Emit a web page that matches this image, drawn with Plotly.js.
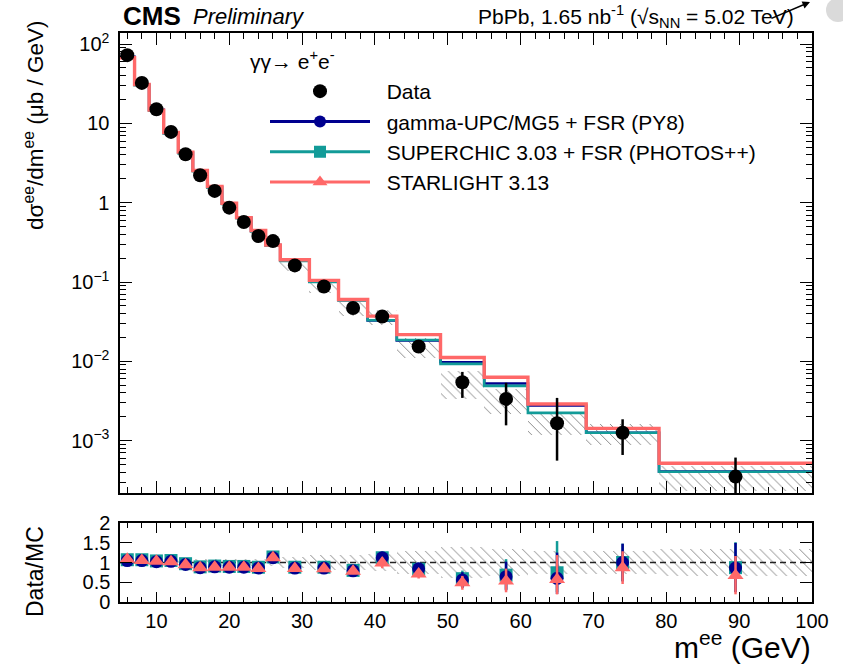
<!DOCTYPE html>
<html>
<head>
<meta charset="utf-8">
<script src="https://cdn.plot.ly/plotly-3.0.1.min.js"></script>
<style>html,body{margin:0;padding:0;background:#fff;}#chart{width:843px;height:672px;}</style>
</head>
<body>
<div id="chart"></div>
<script>
// ---- data ----
const binEdges   = [5,7,9,11,13,15,17,19,21,23,25,27,31,35,39,43,49,55,61,69,79,100];
const binCenters = [6,8,10,12,14,16,18,20,22,24,26,29,33,37,41,46,52,58,65,74,89.5];
// measured cross section (ub/GeV)
const dataXsec    = [72.6,32.4,15.1,7.82,4.08,2.22,1.41,0.867,0.571,0.380,0.328,0.162,0.0879,0.047,0.0368,0.0154,0.00546,0.00336,0.00166,0.00126,0.000352];
const dataErrUp   = [1.5,0.8,0.45,0.25,0.15,0.09,0.06,0.04,0.03,0.022,0.02,0.011,0.007,0.0045,0.005,0.0025,0.0019,0.0020,0.0018,0.0006,0.00026];
const dataErrDown = [1.5,0.8,0.45,0.25,0.15,0.09,0.06,0.04,0.03,0.022,0.02,0.011,0.007,0.0045,0.005,0.0025,0.0020,0.0018,0.0011,0.0006,0.00025];
// relative systematic uncertainty (hatched band)
const relSyst     = [0.08,0.08,0.08,0.08,0.08,0.08,0.08,0.08,0.1,0.1,0.1,0.15,0.18,0.2,0.22,0.28,0.38,0.35,0.3,0.3,0.35];
// MC predictions (ub/GeV)
const gammaUPC   = [69.1,30.9,14.8,7.59,4.29,2.55,1.58,0.985,0.649,0.442,0.293,0.188,0.102,0.0595,0.0329,0.0183,0.00975,0.00525,0.00277,0.00126,0.000409];
const superchic  = [68.0,30.3,14.5,7.45,4.2,2.5,1.55,0.965,0.636,0.433,0.287,0.185,0.100,0.0585,0.033,0.0186,0.0093,0.0049,0.00224,0.00126,0.000405];
const starlight  = [67.2,30.9,14.7,7.67,4.34,2.55,1.60,0.985,0.649,0.447,0.293,0.191,0.105,0.0603,0.0372,0.0217,0.0112,0.0063,0.0029,0.00143,0.00052];
// Data/MC ratios
const ratioGammaUPC  = [1.05,1.05,1.02,1.03,0.95,0.87,0.89,0.88,0.88,0.86,1.12,0.86,0.86,0.79,1.12,0.84,0.56,0.64,0.60,1.00,0.86];
const ratioSuperchic = [1.07,1.07,1.04,1.05,0.97,0.89,0.91,0.90,0.90,0.88,1.14,0.88,0.88,0.80,1.12,0.83,0.59,0.68,0.74,1.00,0.87];
const ratioStarlight = [1.08,1.05,1.03,1.02,0.94,0.87,0.88,0.88,0.88,0.85,1.12,0.85,0.84,0.78,0.99,0.71,0.49,0.53,0.57,0.87,0.67];
const yTickVals = [0.001,0.01,0.1,1,10,100];
const yTickText = ['10<sup>\u22123</sup>','10<sup>\u22122</sup>','10<sup>\u22121</sup>','1','10','10<sup>2</sup>'];
const rTickVals = [0,0.5,1,1.5,2];
const rTickText = ['0','0.5','1','1.5','2'];
const modelNames = ['gamma-UPC/MG5 + FSR (PY8)','SUPERCHIC 3.03 + FSR (PHOTOS++)','STARLIGHT 3.13'];

// ---- derived helpers ----
const widths = binCenters.map((c,i)=>binEdges[i+1]-binEdges[i]);
const stepX = binEdges.slice();
const stepY = a => a.concat([a[a.length-1]]);
const minorLog = [];
for (let e=-4;e<=2;e++) for (let m=2;m<=9;m++) minorLog.push(m*Math.pow(10,e));

const BLUE='#00008f', TEAL='#129b98', RED='#ff6868';
const FONT='Liberation Sans, Arial, Helvetica, sans-serif';
const PAD='\u00a0\u00a0';

const traces = [];
// hatched data systematic band, upper
traces.push({type:'bar', x:binCenters, width:widths,
  base:dataXsec.map((v,i)=>v*(1-relSyst[i])), y:dataXsec.map((v,i)=>2*v*relSyst[i]),
  marker:{color:'rgba(0,0,0,0)', line:{width:0}, pattern:{shape:'\\', fgcolor:'#8a8a8a', bgcolor:'rgba(0,0,0,0)', size:7, solidity:0.14}},
  xaxis:'x', yaxis:'y', showlegend:false, hoverinfo:'skip'});
// step histograms
[[gammaUPC,BLUE,2.6],[superchic,TEAL,2.6],[starlight,RED,3.4]].forEach(([a,c,w])=>{
  traces.push({type:'scatter', mode:'lines', x:stepX, y:stepY(a), line:{shape:'hv', color:c, width:w},
    xaxis:'x', yaxis:'y', showlegend:false, hoverinfo:'skip'});
});
// data points
traces.push({type:'scatter', mode:'markers', name:PAD+'Data', x:binCenters, y:dataXsec,
  error_y:{type:'data', symmetric:false, array:dataErrUp, arrayminus:dataErrDown, color:'black', thickness:2.5, width:0},
  marker:{color:'black', size:14, symbol:'circle'}, xaxis:'x', yaxis:'y', showlegend:true});
// legend-only entries
[[modelNames[0],BLUE,'circle',12],[modelNames[1],TEAL,'square',12],[modelNames[2],RED,'triangle-up',13]].forEach(([n,c,s,sz])=>{
  traces.push({type:'scatter', mode:'lines+markers', name:PAD+n, x:[null], y:[null],
    line:{color:c, width:3}, marker:{color:c, symbol:s, size:sz}, xaxis:'x', yaxis:'y', showlegend:true});
});
// ratio band
traces.push({type:'bar', x:binCenters, width:widths,
  base:relSyst.map(r=>1-r), y:relSyst.map(r=>2*r),
  marker:{color:'rgba(0,0,0,0)', line:{width:0}, pattern:{shape:'\\', fgcolor:'#8a8a8a', bgcolor:'rgba(0,0,0,0)', size:7, solidity:0.14}},
  xaxis:'x2', yaxis:'y2', showlegend:false, hoverinfo:'skip'});
// unity line
traces.push({type:'scatter', mode:'lines', x:[binEdges[0], binEdges[binEdges.length-1]], y:[1,1],
  line:{color:'#222', width:1.5, dash:'6px,4px'}, xaxis:'x2', yaxis:'y2', showlegend:false, hoverinfo:'skip'});
// ratio points
[[ratioSuperchic,TEAL,'square',13],[ratioGammaUPC,BLUE,'circle',13],[ratioStarlight,RED,'triangle-up',14]].forEach(([r,c,s,sz])=>{
  traces.push({type:'scatter', mode:'markers', x:binCenters, y:r,
    error_y:{type:'data', symmetric:false,
      array:r.map((v,i)=>v*dataErrUp[i]/dataXsec[i]), arrayminus:r.map((v,i)=>v*dataErrDown[i]/dataXsec[i]),
      color:c, thickness:2.5, width:0},
    marker:{color:c, symbol:s, size:sz}, xaxis:'x2', yaxis:'y2', showlegend:false, hoverinfo:'skip'});
});

const L=120, R=31, T=33, B=70, W=843, H=672;
const pw=W-L-R, ph=H-T-B;
const px = x => (x-L)/pw;
const py = y => (H-B-y)/ph;

const commonAx = {ticks:'inside', tickcolor:'black', tickwidth:1, showline:true, linecolor:'black', linewidth:1.6,
  mirror:'allticks', showgrid:false, zeroline:false};

const layout = {
  width:W, height:H, margin:{l:L, r:R, t:T, b:B},
  paper_bgcolor:'white', plot_bgcolor:'white',
  font:{family:FONT, color:'black', size:20},
  barmode:'overlay', bargap:0,
  xaxis:Object.assign({}, commonAx, {domain:[0,1], anchor:'y', range:[5,100], dtick:10, tick0:0, ticklen:12,
    showticklabels:false, minor:{ticks:'inside', dtick:2, tick0:0, ticklen:6, tickcolor:'black', showgrid:false}}),
  yaxis:Object.assign({}, commonAx, {domain:[py(493),1], anchor:'x', type:'log', range:[-3.66,2.14],
    tickmode:'array', tickvals:yTickVals, ticktext:yTickText, ticklen:12, tickfont:{size:20, family:FONT},
    ticklabelstandoff:5,
    minor:{ticks:'inside', tickmode:'array', tickvals:minorLog, ticklen:6, tickcolor:'black', showgrid:false}}),
  xaxis2:Object.assign({}, commonAx, {domain:[0,1], anchor:'y2', range:[5,100], dtick:10, tick0:0, ticklen:10,
    tickfont:{size:20, family:FONT},
    minor:{ticks:'inside', dtick:2, tick0:0, ticklen:5, tickcolor:'black', showgrid:false}}),
  yaxis2:Object.assign({}, commonAx, {domain:[0,py(523)], anchor:'x2', range:[0,2],
    tickmode:'array', tickvals:rTickVals, ticktext:rTickText, ticklen:12, tickfont:{size:20, family:FONT},
    ticklabelstandoff:4}),
  showlegend:true,
  legend:{x:px(265), y:py(71), xanchor:'left', yanchor:'top', bgcolor:'rgba(0,0,0,0)', borderwidth:0,
    font:{size:21, family:FONT}, itemwidth:100, traceorder:'normal', tracegroupgap:0},
  annotations:[
    {xref:'paper', yref:'paper', x:px(248), y:py(60), xanchor:'left', yanchor:'middle', showarrow:false,
      text:'\u03b3\u03b3\u2192 e<sup>+</sup>e<sup>-</sup>', font:{size:21, family:FONT}},
    {xref:'paper', yref:'paper', x:px(121), y:py(16), xanchor:'left', yanchor:'middle', showarrow:false,
      text:'<b>CMS</b>', font:{size:26, family:FONT}},
    {xref:'paper', yref:'paper', x:px(191), y:py(17), xanchor:'left', yanchor:'middle', showarrow:false,
      text:'<i>Preliminary</i>', font:{size:22, family:FONT}},
    {xref:'paper', yref:'paper', x:px(476), y:py(17), xanchor:'left', yanchor:'middle', showarrow:false,
      text:'PbPb, 1.65 nb<sup>-1</sup> (\u221as<sub>NN</sub> = 5.02 TeV)', font:{size:21, family:FONT}},
    {xref:'paper', yref:'paper', x:px(810), y:py(2), ax:-40, ay:17, showarrow:true, arrowhead:2, arrowsize:1,
      arrowwidth:1.5, arrowcolor:'black', text:''},
    {xref:'paper', yref:'paper', x:px(34), y:py(126), xanchor:'center', yanchor:'middle', showarrow:false, textangle:-90,
      text:'d\u03c3<sup>ee</sup>/dm<sup>ee</sup> (\u03bcb / GeV)', font:{size:22.5, family:FONT}},
    {xref:'paper', yref:'paper', x:px(35), y:py(572), xanchor:'center', yanchor:'middle', showarrow:false, textangle:-90,
      text:'Data/MC', font:{size:23, family:FONT}},
    {xref:'paper', yref:'paper', x:px(813), y:py(645), xanchor:'right', yanchor:'middle', showarrow:false,
      text:'m<sup>ee</sup> (GeV)', font:{size:30, family:FONT}}
  ],
  shapes:[
    {type:'circle', xref:'paper', yref:'paper', x0:px(826), x1:px(850), y0:py(22), y1:py(-2), fillcolor:'#dadada', line:{width:0}, layer:'above'}
  ]
};

Plotly.newPlot('chart', traces, layout, {staticPlot:true, displayModeBar:false});
</script>
</body>
</html>
